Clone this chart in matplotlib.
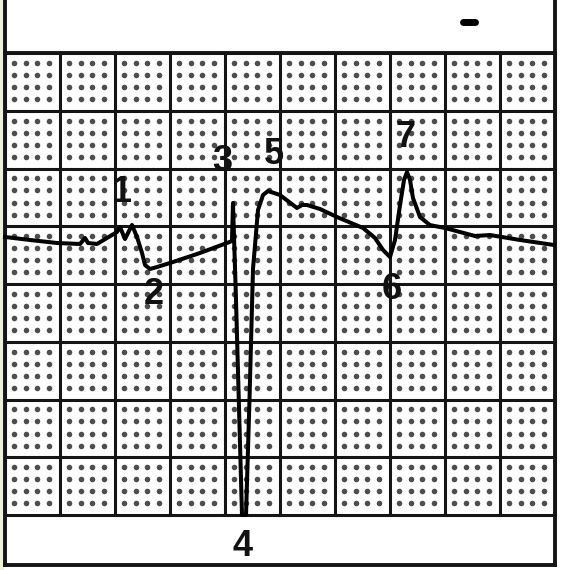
import matplotlib
matplotlib.use("Agg")
import matplotlib.pyplot as plt
import numpy as np

trace_x = [0.000, 0.455, 0.945, 1.364, 1.455, 1.509, 1.673, 1.855, 2.036, 2.091,
           2.182, 2.309, 2.400, 2.491, 2.545, 2.636, 2.764, 3.055, 3.545, 4.036,
           4.127, 4.145, 4.200, 4.309, 4.382, 4.445, 4.509, 4.600, 4.691, 4.782,
           5.000, 5.309, 5.400, 5.491, 5.727, 6.036, 6.509, 6.727, 6.873, 7.000,
           7.091, 7.182, 7.255, 7.309, 7.364, 7.418, 7.545, 7.727, 8.000, 8.545,
           8.818, 9.364, 9.982]
trace_y = [4.814, 4.762, 4.710, 4.693, 4.797, 4.710, 4.693, 4.797, 4.900, 4.987,
           4.779, 5.022, 4.814, 4.537, 4.329, 4.260, 4.294, 4.381, 4.537, 4.710,
           4.745, 5.403, 3.723, 0.000, 0.000, 1.991, 4.260, 5.281, 5.541, 5.610,
           5.541, 5.316, 5.368, 5.368, 5.299, 5.160, 4.970, 4.797, 4.589, 4.468,
           4.762, 5.368, 5.801, 5.939, 5.801, 5.489, 5.160, 5.020, 4.970, 4.831,
           4.848, 4.762, 4.675]

labels = ["1", "2", "3", "4", "5", "6", "7"]
label_x = [2.127, 2.709, 3.945, 4.327, 4.891, 7.036, 7.291]
label_y = [5.576, 3.810, 6.113, -0.537, 6.234, 3.913, 6.545]

n_cols = 10
n_rows = 8

fig = plt.figure(figsize=(5.61, 5.70), dpi=100)
ax = fig.add_axes([0, 0, 1, 1])
ax.set_xlim(-5 / 55, 556 / 55)
ax.set_ylim(-55 / 57.75, 515 / 57.75)
ax.axis("off")

grid_col = "#151515"

# faint strip at the very left edge of the scan
ax.axvspan(-5 / 55, -2 / 55, color="#eef0dc", zorder=0)

# small dots inside each big box
frac = np.array([0.17, 0.38, 0.59, 0.80])
dx, dy = [], []
for i in range(n_cols):
    for j in range(n_rows):
        for fx in frac:
            for fy in frac:
                dx.append(i + fx)
                dy.append(j + 1 - fy)
ax.plot(dx, dy, "o", ms=4.0, color="#3a3a3a", mec="none", alpha=0.9, zorder=1)

# grid lines
for i in range(n_cols + 1):
    ax.plot([i, i], [0, n_rows], color=grid_col, lw=2.2, zorder=2)
for j in range(n_rows + 1):
    ax.plot([0, n_cols], [j, j], color=grid_col, lw=2.2, zorder=2)

# outer frame of the strip
bottom = -50 / 57.75
top = 520 / 57.75
ax.plot([0, 0], [bottom, top], color=grid_col, lw=2.8, zorder=2)
ax.plot([n_cols, n_cols], [bottom, top], color=grid_col, lw=2.8, zorder=2)
ax.plot([0, n_cols], [bottom, bottom], color=grid_col, lw=2.8, zorder=2)
ax.plot([0, n_cols], [n_rows, n_rows], color=grid_col, lw=2.8, zorder=2)

# little mark in the header
ax.plot([8.33, 8.55], [8.53, 8.53], color="black", lw=5, solid_capstyle="round", zorder=3)

# the trace
ax.plot(trace_x, trace_y, color="black", lw=2.9, solid_joinstyle="round", zorder=4)

for t, x, y in zip(labels, label_x, label_y):
    ax.text(x, y, t, ha="center", va="center", fontsize=26, fontweight="bold",
            family="Liberation Sans", color="#111111", zorder=5)

fig.savefig("out.png", dpi=100, facecolor="white")
